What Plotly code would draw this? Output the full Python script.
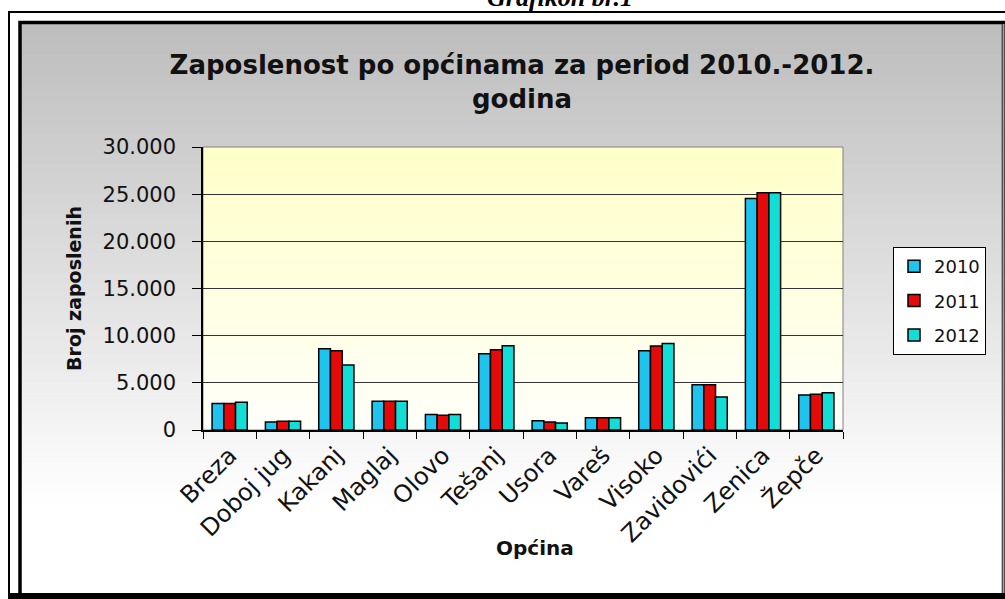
import plotly.graph_objects as go

# ---------------- data ----------------
categories = ["Breza", "Doboj jug", "Kakanj", "Maglaj", "Olovo", "Tešanj",
              "Usora", "Vareš", "Visoko", "Zavidovići", "Zenica", "Žepče"]
years = ["2010", "2011", "2012"]
y2010 = [2800, 850, 8600, 3050, 1630, 8080, 990, 1310, 8400, 4790, 24540, 3720]
y2011 = [2800, 920, 8400, 3050, 1560, 8510, 850, 1310, 8900, 4790, 25140, 3790]
y2012 = [2950, 920, 6880, 3050, 1630, 8940, 750, 1310, 9180, 3510, 25140, 3940]
series = [y2010, y2011, y2012]
y_ticks = [0, 5000, 10000, 15000, 20000, 25000, 30000]

colors = ["#1FC4EE", "#E50A0A", "#12DDD6"]

# ---------------- geometry (pixels) ----------------
W, H = 1005, 599
PL, PR, PT, PB = 203, 843, 147, 430   # plot area


def px(x):
    return (x - PL) / (PR - PL)


def py(y):
    return (PB - y) / (PB - PT)


def lerp_hex(c1, c2, t):
    a = [int(c1[i:i + 2], 16) for i in (1, 3, 5)]
    b = [int(c2[i:i + 2], 16) for i in (1, 3, 5)]
    c = [round(a[k] + (b[k] - a[k]) * t) for k in range(3)]
    return "#%02X%02X%02X" % tuple(c)


shapes = []
# chart-area gray gradient
top, bot = 24, 593
n = 57
for i in range(n):
    y0 = top + (bot - top) * i / n
    y1 = top + (bot - top) * (i + 1) / n + 0.5
    t = min(1.0, (i + 0.5) / n / 0.85)
    shapes.append(dict(type="rect", xref="paper", yref="paper", layer="below",
                       x0=px(21), x1=px(1003), y0=py(y0), y1=py(y1),
                       fillcolor=lerp_hex("#BDBDBD", "#FFFFFF", t), line_width=0))
# plot-area yellow gradient
n = 30
for i in range(n):
    y0 = PT + (PB - PT) * i / n
    y1 = PT + (PB - PT) * (i + 1) / n + 0.5
    t = (i + 0.5) / n
    shapes.append(dict(type="rect", xref="paper", yref="paper", layer="below",
                       x0=0, x1=1, y0=py(y0), y1=py(min(y1, PB)),
                       fillcolor=lerp_hex("#FFFFC8", "#FFFFFA", t), line_width=0))
# plot area border
shapes.append(dict(type="rect", xref="paper", yref="paper", layer="below",
                   x0=0, x1=1, y0=0, y1=1, line=dict(color="#808080", width=1)))
# frames
shapes.append(dict(type="rect", xref="paper", yref="paper",
                   x0=px(9), x1=px(1012), y0=py(12), y1=py(610),
                   line=dict(color="black", width=2)))
shapes.append(dict(type="rect", xref="paper", yref="paper",
                   x0=px(20), x1=px(1003.5), y0=py(22.5), y1=py(596),
                   line=dict(color="black", width=3.5)))
shapes.append(dict(type="line", xref="paper", yref="paper",
                   x0=px(1003.5), x1=px(1003.5), y0=py(24), y1=py(593),
                   line=dict(color="#A0A0A0", width=2)))
shapes.append(dict(type="rect", xref="paper", yref="paper",
                   x0=px(8), x1=px(1010), y0=py(593), y1=py(605),
                   fillcolor="black", line_width=0))

fig = go.Figure()
for name, vals, col in zip(years, series, colors):
    fig.add_trace(go.Bar(
        x=categories, y=vals, name=name, legendgroup=name,
        marker=dict(color=col, line=dict(color="black", width=1.5)),
    ))

FONT = "DejaVu Sans"

fig.update_layout(
    width=W, height=H, autosize=False,
    margin=dict(l=PL, r=W - PR, t=PT, b=H - PB, autoexpand=False),
    paper_bgcolor="white", plot_bgcolor="rgba(0,0,0,0)",
    separators=",.",
    barmode="group", bargap=0.34, bargroupgap=0,
    font=dict(family=FONT, color="#111111"),
    title=dict(text="<b>Zaposlenost po općinama za period 2010.-2012.<br>godina</b>",
               xref="container", yref="container", x=522 / W, xanchor="center",
               y=1 - 74 / H, yanchor="middle",
               font=dict(family=FONT, size=26, color="#111111")),
    xaxis=dict(
        type="category", tickangle=-45, tickson="boundaries",
        ticks="outside", ticklen=7, tickcolor="black",
        showline=True, linecolor="black", linewidth=1.5,
        tickfont=dict(family=FONT, size=24, color="#111111"),
        showgrid=False, fixedrange=True,
    ),
    yaxis=dict(
        range=[0, 30000], tickvals=y_ticks, tickformat=",",
        ticks="outside", ticklen=9, tickcolor="black",
        showline=True, linecolor="black", linewidth=1.5,
        ticklabelstandoff=12,
        gridcolor="#333333", gridwidth=1,
        zeroline=False,
        tickfont=dict(family=FONT, size=21, color="#111111"),
        title=dict(text="<b>Broj zaposlenih</b>", standoff=16,
                   font=dict(family=FONT, size=19, color="#111111")),
        fixedrange=True,
    ),
    legend=dict(
        x=px(893), y=py(247), xanchor="left", yanchor="top",
        bgcolor="white", bordercolor="black", borderwidth=1,
        font=dict(family=FONT, size=18, color="#111111"),
        tracegroupgap=8, itemwidth=30,
    ),
    shapes=shapes,
    annotations=[
        dict(text="<b><i>Grafikon br.1</i></b>", xref="paper", yref="paper",
             x=px(560), y=py(14), xanchor="center", yanchor="bottom",
             showarrow=False,
             font=dict(family="Liberation Serif", size=26, color="black")),
        dict(text="<b>Općina</b>", xref="paper", yref="paper",
             x=px(535), y=py(548), xanchor="center", yanchor="middle",
             showarrow=False,
             font=dict(family=FONT, size=20, color="#111111")),
    ],
)

fig.write_html("out.html", config={"displayModeBar": False},
               post_script="document.body.style.margin='0';document.body.style.padding='0';")
